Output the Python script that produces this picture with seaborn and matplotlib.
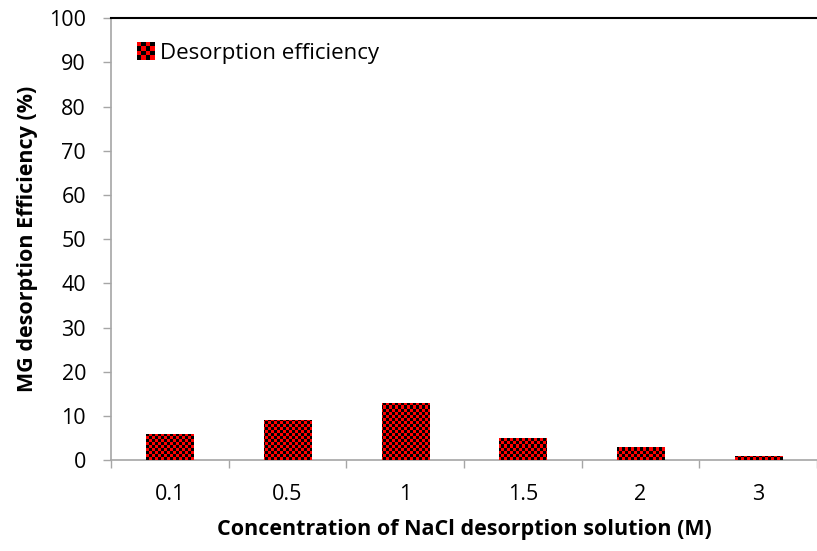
import numpy as np
import pandas as pd
import matplotlib
matplotlib.use("Agg")
import matplotlib.pyplot as plt
import seaborn as sns
from matplotlib.patches import Rectangle
from matplotlib.legend_handler import HandlerBase

concentrations = ["0.1", "0.5", "1", "1.5", "2", "3"]
efficiency = [6, 9, 13, 5, 3, 1]
series_label = "Desorption efficiency"

df = pd.DataFrame({"conc": concentrations, "eff": efficiency})

sns.set_style("white")
plt.rcParams["font.family"] = ["Open Sans", "DejaVu Sans"]
plt.rcParams["text.color"] = "black"
plt.rcParams["axes.labelcolor"] = "black"

fig = plt.figure(figsize=(8.17, 5.51), dpi=100)
ax = fig.add_axes([0.1359, 0.165, 0.8641, 0.802])

sns.barplot(data=df, x="conc", y="eff", color="red", width=0.4,
            saturation=1, ax=ax, zorder=2)

# checkerboard texture clipped to each bar
xlim = (-0.5, 5.41)
ylim = (0, 100)
cell = 3.0  # px
w_px, h_px = 0.8641 * 817, 0.802 * 551
nx, ny = int(w_px / cell) + 1, int(h_px / cell) + 1
checker = (np.add.outer(np.arange(ny), np.arange(nx)) % 2).astype(float)
cmap = matplotlib.colors.ListedColormap(["#000000", "#ff0000"])
for bar in ax.patches:
    bar.set_edgecolor("none")
    im = ax.imshow(checker, cmap=cmap, extent=(xlim[0], xlim[0] + nx * cell / w_px * (xlim[1] - xlim[0]),
                                               ylim[0], ylim[0] + ny * cell / h_px * (ylim[1] - ylim[0])),
                   origin="lower", aspect="auto", interpolation="nearest", zorder=3)
    im.set_clip_path(bar)

ax.set_xlim(*xlim)
ax.set_ylim(*ylim)
ax.set_yticks(np.arange(0, 101, 10))

# ticks between categories
ax.set_xticks(np.arange(6))
ax.set_xticks(np.arange(-0.5, 6, 1), minor=True)
ax.tick_params(axis="x", which="major", length=0, pad=17, labelsize=15.5, labelcolor="black")
ax.tick_params(axis="x", which="minor", length=6, width=1, color="#a6a6a6", direction="out", bottom=True)
ax.tick_params(axis="y", length=6, width=1, color="#a6a6a6", direction="out", left=True,
               labelsize=15.5, pad=12, labelcolor="black")

for s in ["left", "bottom"]:
    ax.spines[s].set_color("#a6a6a6")
    ax.spines[s].set_linewidth(1.2)
ax.spines["right"].set_visible(False)
ax.spines["top"].set_color("black")
ax.spines["top"].set_linewidth(1.5)

ax.set_xlabel("Concentration of NaCl desorption solution (M)", fontsize=15.5,
              fontweight="bold", labelpad=10)
ax.set_ylabel("MG desorption Efficiency (%)", fontsize=15.5, fontweight="bold", labelpad=8)


class CheckerHandler(HandlerBase):
    def create_artists(self, legend, orig_handle, xdescent, ydescent, width, height,
                       fontsize, trans):
        size = 13
        x0 = -xdescent + (width - size) / 2
        y0 = -ydescent + (height - size) / 2
        n = 4
        s = size / n
        arts = []
        for i in range(n):
            for j in range(n):
                c = "red" if (i + j) % 2 else "black"
                arts.append(Rectangle((x0 + i * s, y0 + j * s), s, s, facecolor=c,
                                      edgecolor="none", transform=trans))
        return arts


handle = Rectangle((0, 0), 1, 1)
leg = ax.legend([handle], [series_label], handler_map={Rectangle: CheckerHandler()},
                loc="upper left", bbox_to_anchor=(0.01, 0.99), frameon=False, fontsize=16,
                handlelength=0.7, handletextpad=0.3)
for t in leg.get_texts():
    t.set_color("black")

fig.savefig("out.png", dpi=100)
